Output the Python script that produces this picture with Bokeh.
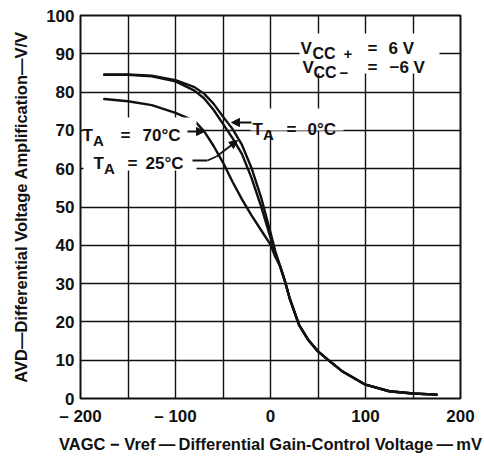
import math
from bokeh.plotting import figure
from bokeh.models import Range1d, FixedTicker, Label, Arrow, NormalHead, BoxAnnotation
from bokeh.embed import file_html
from bokeh.resources import INLINE

# ---------------- data ----------------
x_mv = [-175, -150, -125, -100, -80, -70, -60, -50, -40, -30, -20, -10, 0, 5, 10,
        15, 20, 30, 40, 50, 60, 75, 100, 125, 150, 175]
av_0c = [84.6, 84.6, 84.3, 83.1, 81.3, 79.6, 77.0, 73.6, 70.4, 66.2, 60.2, 52.6, 43.3,
         38.5, 34.6, 30.8, 26.3, 19.2, 15.2, 12.3, 10.2, 7.2, 3.6, 1.9, 1.3, 1.0]
av_25c = [84.5, 84.5, 84.1, 82.8, 80.4, 78.4, 75.4, 71.7, 68.0, 63.8, 57.6, 50.2, 42.0,
          38.0, 34.6, 30.8, 26.3, 19.2, 15.2, 12.3, 10.2, 7.2, 3.6, 1.9, 1.3, 1.0]
av_70c = [78.2, 77.6, 76.6, 74.6, 72.5, 69.8, 66.0, 61.6, 56.6, 52.0, 47.8, 44.0, 40.2,
          37.0, 34.6, 30.8, 26.3, 19.2, 15.2, 12.3, 10.2, 7.2, 3.6, 1.9, 1.3, 1.0]

x_ticks = [-200, -100, 0, 100, 200]
x_tick_labels = ["\u2013 200", "\u2013 100", "0", "100", "200"]
x_grid = [-200, -150, -100, -50, 0, 50, 100, 150, 200]
y_ticks = [0, 10, 20, 30, 40, 50, 60, 70, 80, 90, 100]

x_title = "VAGC \u2212 Vref\u2009\u2014\u2009Differential Gain-Control Voltage\u2009\u2014\u2009mV"
y_title = "AVD\u2014Differential Voltage Amplification\u2014V/V"

FONT = "Liberation Sans"
INK = "#111111"

# ---------------- figure ----------------
FW, FH = 380, 383
FL, FT = 80, 15          # frame position on the page (px)
p = figure(x_range=Range1d(-200, 200), y_range=Range1d(0, 100),
           frame_width=FW, frame_height=FH,
           min_border_left=FL, min_border_right=24, min_border_top=FT, min_border_bottom=60,
           output_backend="svg", toolbar_location=None,
           background_fill_color="white", border_fill_color="white")

p.outline_line_color = INK
p.outline_line_width = 2

p.xaxis.ticker = FixedTicker(ticks=x_ticks)
p.xaxis.major_label_overrides = {t: s for t, s in zip(x_ticks, x_tick_labels)}
p.yaxis.ticker = FixedTicker(ticks=y_ticks)
p.xgrid.ticker = FixedTicker(ticks=x_grid)
p.ygrid.ticker = FixedTicker(ticks=y_ticks)
for ax in (p.xaxis[0], p.yaxis[0]):
    ax.axis_line_color = None
    ax.major_tick_line_color = None
    ax.minor_tick_line_color = None
    ax.major_tick_out = 0
    ax.major_tick_in = 0
    ax.minor_tick_out = 0
    ax.minor_tick_in = 0
    ax.major_label_text_font = FONT
    ax.major_label_text_font_style = "bold"
    ax.major_label_text_font_size = "17px"
    ax.major_label_text_color = INK
    ax.axis_label_text_font = FONT
    ax.axis_label_text_font_style = "bold"
    ax.axis_label_text_font_size = "16.5px"
    ax.axis_label_text_color = INK
p.xaxis.axis_label = x_title
p.yaxis.axis_label = y_title
p.xaxis.major_label_standoff = 8
p.yaxis.major_label_standoff = 6
p.xaxis.axis_label_standoff = 6
p.yaxis.axis_label_standoff = 13
for g in (p.xgrid[0], p.ygrid[0]):
    g.grid_line_color = INK
    g.grid_line_width = 1.4
    g.grid_line_alpha = 1.0

# ---------------- curves ----------------
for ys in (av_70c, av_25c, av_0c):
    p.line(x_mv, ys, line_color=INK, line_width=2.4, line_join="round", line_cap="round")

# ---------------- helpers for annotations ----------------
def dx(px):  # page pixel -> data x
    return -200 + (px - FL) * 400.0 / FW

def dy(py):  # page pixel -> data y
    return 100 - (py - FT) * 100.0 / FH

W = {' ': 278, '+': 584, '-': 333, '/': 278, '=': 584, 'A': 722, 'C': 722, 'D': 722,
     'G': 778, 'T': 611, 'V': 667, 'a': 556, 'c': 556, 'e': 556, 'f': 333, 'g': 611,
     'i': 278, 'l': 278, 'm': 889, 'n': 611, 'o': 611, 'p': 611, 'r': 389, 't': 333,
     '\u00b0': 400, '\u2212': 584, '\u2013': 556, '\u2014': 1000}

def width(text, size):
    return sum(W.get(c, 556) for c in text) * size / 1000.0

def lab(px, py, text, size, xo=0, yo=0):
    p.add_layout(Label(x=dx(px), y=dy(py), x_offset=xo, y_offset=yo, text=text,
                       text_font=FONT, text_font_style="bold",
                       text_font_size=f"{size}px", text_color=INK,
                       text_align="left", text_baseline="alphabetic"))

def seq(px, py, parts):
    adv = 0.0
    for text, size, shift in parts:
        lab(px, py, text, size, xo=adv, yo=-shift)
        adv += width(text, size)

def box(l, r, t, b):
    p.add_layout(BoxAnnotation(left=dx(l), right=dx(r), top=dy(t), bottom=dy(b),
                               fill_color="white", fill_alpha=1.0, line_color=None))

def arrow(x0, y0, x1, y1, head=True):
    p.add_layout(Arrow(x_start=dx(x0), y_start=dy(y0), x_end=dx(x1), y_end=dy(y1),
                       line_color=INK, line_width=1.8,
                       end=NormalHead(size=8, fill_color=INK, line_color=INK) if head else None))

# white backgrounds behind the annotation texts
box(299, 439, 33, 73)
box(83, 196, 117, 170)
box(250, 343, 108, 130)

# V_CC annotation
seq(300, 48, [("V", 17, 0)])
seq(312, 48, [("CC", 16, 5)])
seq(343, 48, [("+", 15, 5)])
seq(367, 48, [("=", 17, 0)])
seq(388, 48, [("6 V", 17, 0)])
seq(302, 67, [("V", 17, 0)])
seq(313, 67, [("CC", 16, 5)])
seq(339, 67, [("\u2212", 15, 5)])
seq(367, 67, [("=", 17, 0)])
seq(389, 67, [("\u22126 V", 17, 0)])

# T_A labels
seq(82, 135, [("T", 17, 0), ("A", 15, 5)])
seq(120, 135, [("=", 17, 0)])
seq(142, 135, [("70\u00b0C", 17, 0)])
seq(93, 163, [("T", 17, 0), ("A", 15, 5)])
seq(127, 163, [("=", 17, 0)])
seq(145, 163, [("25\u00b0C", 17, 0)])
seq(252, 129, [("T", 17, 0), ("A", 15, 5)])
seq(286, 129, [("=", 17, 0)])
seq(307, 129, [("0\u00b0C", 17, 0)])

# arrows / leaders
arrow(187, 131, 204, 131)
arrow(192, 160, 207, 160, head=False)
arrow(207, 160, 216, 156, head=False)
arrow(216, 156, 237, 140)
arrow(251, 122, 231, 122)

open("out.html", "w").write(file_html(p, INLINE))
